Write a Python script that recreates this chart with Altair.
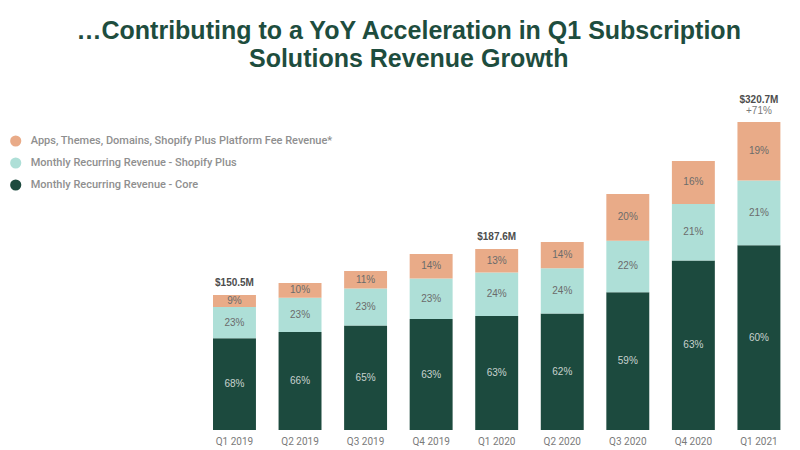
import altair as alt
import pandas as pd

quarters = ["Q1 2019", "Q2 2019", "Q3 2019", "Q4 2019", "Q1 2020",
            "Q2 2020", "Q3 2020", "Q4 2020", "Q1 2021"]
# bar heights ($M scale, Q1 2021 = 320.7)
bar_totals = [140.6, 153.1, 165.6, 183.3, 188.5, 195.7, 245.7, 280.1, 320.7]
core_pct = [68, 66, 65, 63, 63, 62, 59, 63, 60]
plus_pct = [23, 23, 23, 23, 24, 24, 22, 21, 21]
apps_pct = [9, 10, 11, 14, 13, 14, 20, 16, 19]

series_names = [
    "Apps, Themes, Domains, Shopify Plus Platform Fee Revenue*",
    "Monthly Recurring Revenue - Shopify Plus",
    "Monthly Recurring Revenue - Core",
]
series_colors = ["#E9AB88", "#AEDFD7", "#1C4A3E"]

label_quarters = ["Q1 2019", "Q1 2020", "Q1 2021"]
label_revenue = ["$150.5M", "$187.6M", "$320.7M"]
growth_quarters = ["Q1 2021"]
growth_text = ["+71%"]

title_lines = ["\u2026Contributing to a YoY Acceleration in Q1 Subscription",
               "Solutions Revenue Growth"]

# ---- build tables ----
rows = []
for i, q in enumerate(quarters):
    parts = [(series_names[2], core_pct[i], 0),
             (series_names[1], plus_pct[i], 1),
             (series_names[0], apps_pct[i], 2)]
    s = sum(p for _, p, _ in parts)
    base = 0.0
    for name, p, order in parts:
        v = bar_totals[i] * p / s
        rows.append(dict(quarter=q, series=name, pct=f"{p}%", order=order,
                         y0=base, y1=base + v, ym=base + v / 2,
                         dark=(order == 0)))
        base += v
df = pd.DataFrame(rows)

tot_map = dict(zip(quarters, bar_totals))
ann = pd.DataFrame(dict(quarter=label_quarters, text=label_revenue,
                        total=[tot_map[q] for q in label_quarters],
                        has_growth=[q in growth_quarters for q in label_quarters]))
gro = pd.DataFrame(dict(quarter=growth_quarters, text=growth_text,
                        total=[tot_map[q] for q in growth_quarters]))

yscale = alt.Scale(domain=[0, 364.4])
xenc = alt.X("quarter:N", sort=quarters,
             scale=alt.Scale(paddingInner=0.345, paddingOuter=0.1725),
             axis=alt.Axis(title=None, labelAngle=0, ticks=False, domain=False,
                           labelColor="#7a7a7a", labelFont="Roboto",
                           labelFontSize=10, labelPadding=6))

bars = alt.Chart(df).mark_bar().encode(
    x=xenc,
    y=alt.Y("y0:Q", scale=yscale, axis=None),
    y2="y1:Q",
    color=alt.Color("series:N", scale=alt.Scale(domain=series_names, range=series_colors),
                    legend=alt.Legend(title=None, orient="none", legendX=-192, legendY=55,
                                      symbolType="circle", symbolSize=125,
                                      symbolStrokeWidth=0, labelFont="Roboto",
                                      labelFontWeight=500, labelFontSize=11,
                                      labelColor="#8f8f8f", labelOffset=9,
                                      rowPadding=10, labelLimit=400)),
)

seg_text = alt.Chart(df).mark_text(font="Liberation Sans", fontSize=10).encode(
    x=xenc,
    y=alt.Y("ym:Q", scale=yscale, axis=None),
    text="pct:N",
    color=alt.condition(alt.datum.dark, alt.value("#c9d3cf"), alt.value("#6b6b6b")),
)

rev_style = dict(font="Liberation Sans", fontSize=10, fontWeight="bold", color="#4d4d4d")
rev_enc = dict(x=xenc, y=alt.Y("total:Q", scale=yscale, axis=None), text="text:N")

rev_text = alt.Chart(ann).transform_filter("!datum.has_growth").mark_text(
    dy=-12, **rev_style).encode(**rev_enc)
rev_text_g = alt.Chart(ann).transform_filter("datum.has_growth").mark_text(
    dy=-22, **rev_style).encode(**rev_enc)

gro_text = alt.Chart(gro).mark_text(font="Liberation Sans", fontSize=10, color="#7a7a7a", dy=-11).encode(
    x=xenc,
    y=alt.Y("total:Q", scale=yscale, axis=None),
    text="text:N",
)

chart = alt.layer(bars, seg_text, rev_text, rev_text_g, gro_text).properties(
    width=590, height=350,
    title=alt.TitleParams(text=title_lines, font="Liberation Sans", fontSize=25,
                          fontWeight="bold", color="#1E4D3E", anchor="middle",
                          frame="group", dx=-88, offset=8, lineHeight=28),
    autosize=alt.AutoSizeParams(type="none"),
    padding={"left": 201.7, "top": 80, "right": 8.3, "bottom": 20},
).configure(background="white").configure_view(strokeWidth=0, stroke="transparent")

chart.save("out.html", embed_options={"renderer": "svg", "actions": False})
